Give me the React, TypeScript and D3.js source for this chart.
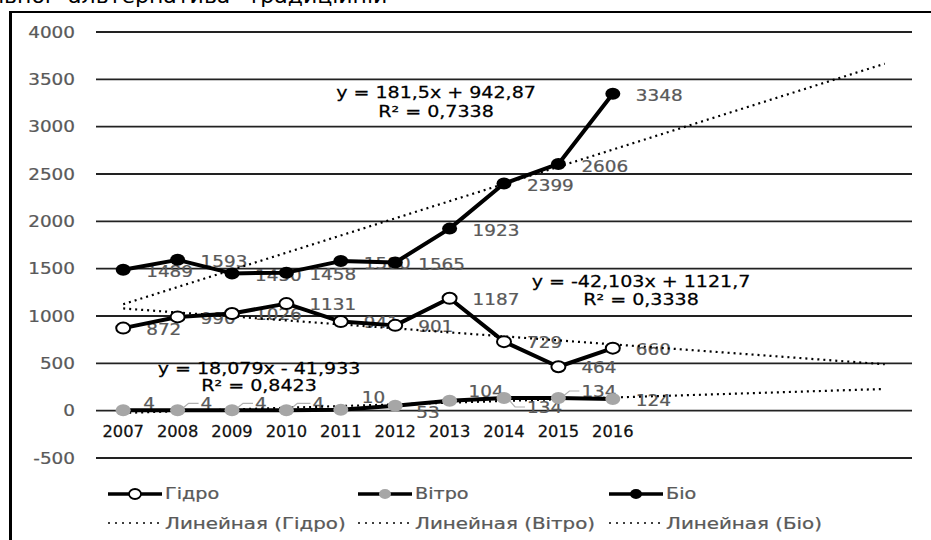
import * as d3 from "d3";

const years = ["2007", "2008", "2009", "2010", "2011", "2012", "2013", "2014", "2015", "2016"];
const hydro = [872, 990, 1026, 1131, 941, 901, 1187, 729, 464, 660];
const wind = [4, 4, 4, 4, 10, 53, 104, 134, 134, 124];
const bio = [1489, 1593, 1450, 1458, 1580, 1565, 1923, 2399, 2606, 3348];
const yTicks = [-500, 0, 500, 1000, 1500, 2000, 2500, 3000, 3500, 4000];

// trend equations as printed on the chart
const hydroTrend = { slope: -42.103, intercept: 1121.7, eq: "y = -42,103x + 1121,7", r2: "R² = 0,3338" };
const windTrend = { slope: 18.079, intercept: -41.933, eq: "y = 18,079x - 41,933", r2: "R² = 0,8423" };
const bioTrend = { slope: 181.5, intercept: 942.87, eq: "y = 181,5x + 942,87", r2: "R² = 0,7338" };

// wind labels are shifted around by hand in the original, [dx, dy, leader]
const windLabelPos: [number, number, number][] = [
  [20, -7, 0], [23, -7, 1], [23, -7, 1], [26, -7, 1], [21, -12, 0],
  [21, 7, 0], [19, -9, 0], [23, 9, -1], [23, -7, 1], [23, 2, 0],
];

const W = 931;
const H = 540;
const FONT = "DejaVu Sans, Verdana, sans-serif";

function T({ x, y, anchor = "start", size = 16, sx = 1.15, fill = "#595959", children }: any) {
  return (
    <text
      transform={`translate(${x},${y}) scale(${sx},1)`}
      textAnchor={anchor}
      dominantBaseline="central"
      fontFamily={FONT}
      fontSize={size}
      fill={fill}
      stroke={fill}
      strokeWidth={0.25}
    >
      {children}
    </text>
  );
}

export default function App() {
  const x = d3.scaleLinear().domain([0.5, 15.5]).range([96, 912]);
  const y = d3.scaleLinear().domain([-500, 4000]).range([458, 32]);
  const idx = years.map((_, i) => i + 1);

  const line = d3
    .line<number>()
    .x((_, i) => x(i + 1))
    .y((d) => y(d));

  const trendPath = (t: { slope: number; intercept: number }) =>
    d3.line<number>().x((d) => x(d)).y((d) => y(t.slope * d + t.intercept))([1, 15]) ?? "";

  const dotted = { stroke: "#000", strokeWidth: 2.2, strokeDasharray: "2 4", fill: "none" };

  return (
    <svg
      width={W}
      height={H}
      style={{ position: "absolute", left: 0, top: 0, background: "#fff" }}
    >
      <rect width={W} height={H} fill="#fff" />
      {/* cropped heading of the page */}
      <text x={-10} y={3} fontFamily={FONT} fontSize={22} fill="#000">
        льної "альтернатива" традиційній
      </text>
      {/* frame */}
      <line x1={10} x2={931} y1={12} y2={12} stroke="#000" strokeWidth={2} />
      <line x1={10.5} x2={10.5} y1={11} y2={H} stroke="#000" strokeWidth={3} />

      {/* grid + y ticks */}
      {yTicks.map((t) => (
        <g key={t}>
          <line x1={x(0.5)} x2={x(15.5)} y1={y(t)} y2={y(t)} stroke="#222" strokeWidth={1.8} />
          <T x={75} y={y(t)} anchor="end">
            {t}
          </T>
        </g>
      ))}

      {/* year labels */}
      {years.map((yr, i) => (
        <T key={yr} x={x(i + 1)} y={y(0) + 21} anchor="middle" size={15.5} sx={1.05} fill="#111">
          {yr}
        </T>
      ))}

      {/* data labels */}
      {hydro.map((v, i) => (
        <T key={"h" + i} x={x(i + 1) + 23} y={y(v) + 1}>
          {v}
        </T>
      ))}
      {bio.map((v, i) => (
        <T key={"b" + i} x={x(i + 1) + 23} y={y(v) + 2}>
          {v}
        </T>
      ))}
      {wind.map((v, i) => {
        const [dx, dy, leader] = windLabelPos[i];
        const px = x(i + 1);
        const py = y(v);
        return (
          <g key={"w" + i}>
            {leader !== 0 && (
              <polyline
                points={`${px + 5},${py - 2 * leader} ${px + 11},${py + dy} ${px + dx - 2},${py + dy}`}
                fill="none"
                stroke="#b0b0b0"
                strokeWidth={1.2}
              />
            )}
            <T x={px + dx} y={py + dy}>
              {v}
            </T>
          </g>
        );
      })}

      {/* trend lines */}
      <path d={trendPath(hydroTrend)} {...dotted} />
      <path d={trendPath(windTrend)} {...dotted} />
      <path d={trendPath(bioTrend)} {...dotted} />

      {/* series lines */}
      <path d={line(hydro) ?? ""} fill="none" stroke="#000" strokeWidth={4} strokeLinejoin="round" />
      <path d={line(wind) ?? ""} fill="none" stroke="#000" strokeWidth={4} strokeLinejoin="round" />
      <path d={line(bio) ?? ""} fill="none" stroke="#000" strokeWidth={4} strokeLinejoin="round" />

      {/* markers */}
      {idx.map((k, i) => (
        <g key={"m" + k}>
          <ellipse cx={x(k)} cy={y(wind[i])} rx={7.5} ry={6} fill="#a6a6a6" />
          <ellipse cx={x(k)} cy={y(hydro[i])} rx={7} ry={5.5} fill="#fff" stroke="#000" strokeWidth={2} />
          <ellipse cx={x(k)} cy={y(bio[i])} rx={7.5} ry={6} fill="#000" />
        </g>
      ))}

      {/* trend equations */}
      <T x={436} y={93} anchor="middle" fill="#000" sx={1.19}>
        {bioTrend.eq}
      </T>
      <T x={436} y={112} anchor="middle" fill="#000" sx={1.19}>
        {bioTrend.r2}
      </T>
      <T x={641} y={282} anchor="middle" fill="#000" sx={1.19}>
        {hydroTrend.eq}
      </T>
      <T x={641} y={300} anchor="middle" fill="#000" sx={1.19}>
        {hydroTrend.r2}
      </T>
      <T x={259} y={369} anchor="middle" fill="#000" sx={1.19}>
        {windTrend.eq}
      </T>
      <T x={259} y={386} anchor="middle" fill="#000" sx={1.19}>
        {windTrend.r2}
      </T>

      {/* legend */}
      {[
        { name: "Гідро", x0: 108, fill: "#fff", stroke: "#000" },
        { name: "Вітро", x0: 358, fill: "#a6a6a6", stroke: "none" },
        { name: "Біо", x0: 609, fill: "#000", stroke: "none" },
      ].map((s) => (
        <g key={s.name}>
          <line x1={s.x0} x2={s.x0 + 54} y1={494} y2={494} stroke="#000" strokeWidth={3.5} />
          <ellipse cx={s.x0 + 27} cy={494} rx={6} ry={5} fill={s.fill} stroke={s.stroke} strokeWidth={1.8} />
          <T x={s.x0 + 57} y={494} size={16} sx={1.2}>
            {s.name}
          </T>
          <line x1={s.x0} x2={s.x0 + 52} y1={523} y2={523} stroke="#000" strokeWidth={1.6} strokeDasharray="2 5" />
          <T x={s.x0 + 57} y={523} size={16} sx={1.24}>
            {`Линейная (${s.name})`}
          </T>
        </g>
      ))}
    </svg>
  );
}
